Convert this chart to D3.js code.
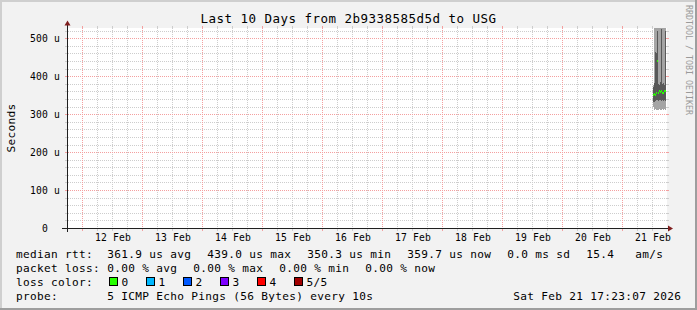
<!DOCTYPE html>
<html><head><meta charset="utf-8">
<script src="https://cdn.jsdelivr.net/npm/d3@7"></script>
<style>
html,body{margin:0;padding:0;background:#f2f2f2;}
svg{display:block;}
text{font-family:"DejaVu Sans Mono",monospace;fill:#000;}
</style></head><body>
<svg id="c" width="697" height="310"></svg>
<script>
// ---------- data ----------
const title = "Last 10 Days from 2b9338585d5d to USG";
const yTickValues = [0, 100, 200, 300, 400, 500];
const yTickLabels = ["0  ", "100 u", "200 u", "300 u", "400 u", "500 u"];
const xTickDays = ["2026-02-12","2026-02-13","2026-02-14","2026-02-15","2026-02-16","2026-02-17","2026-02-18","2026-02-19","2026-02-20","2026-02-21"];
const xTickLabels = ["12 Feb","13 Feb","14 Feb","15 Feb","16 Feb","17 Feb","18 Feb","19 Feb","20 Feb","21 Feb"];
const rangeStart = "2026-02-11 18:00";
const rangeEnd = "2026-02-21 18:00";
// one sample per 24-minute pixel column (round-trip times in microseconds)
const sampleTimes = ["2026-02-21 12:24","2026-02-21 12:48","2026-02-21 13:12","2026-02-21 13:36","2026-02-21 14:00","2026-02-21 14:24","2026-02-21 14:48","2026-02-21 15:12","2026-02-21 15:36","2026-02-21 16:00","2026-02-21 16:24","2026-02-21 16:48","2026-02-21 17:12"];
const pingMin    = [318, 312, 313, 311, 312, 310, 313, 312, 311, 313, 312, 314, 312];
const ping2      = [333, 333, 335, 336, 338, 334, 337, 336, 335, 338, 334, 336, 335];
const pingMedian = [350.3, 352, 351, 356, 439, 357, 361, 358, 362, 357, 356, 360, 359.7];
const ping4      = [372, 382, 465, 460, 520, 380, 378, 385, 525, 380, 383, 378, 520];
const pingMax    = [378, 535, 540, 540, 540, 540, 540, 540, 540, 540, 540, 540, 540];
const rttLabel = "median rtt:";
const rttItems = ["361.9 us avg", "439.0 us max", "350.3 us min", "359.7 us now", "0.0 ms sd", "15.4   am/s"];
const lossLabel = "packet loss:";
const lossItems = ["0.00 % avg", "0.00 % max", "0.00 % min", "0.00 % now"];
const lossColorLabel = "loss color:";
const lossColorNames = ["0", "1", "2", "3", "4", "5/5"];
const lossColors = ["#26ff00", "#00b8ff", "#0059ff", "#7e00ff", "#ff0000", "#a10000"];
const probeLabel = "probe:";
const probeText = "5 ICMP Echo Pings (56 Bytes) every 10s";
const dateText = "Sat Feb 21 17:23:07 2026";
const watermark = "RRDTOOL / TOBI OETIKER";
const yAxisTitle = "Seconds";
const minorStepValue = 20, majorStepValue = 100;   // horizontal grid
const minorStepHours = 6;                          // vertical grid

// ---------- layout ----------
const W = 697, H = 310;
const X0 = 67, X1 = 667, YT = 28, YB = 228;
const parse = d3.timeParse("%Y-%m-%d %H:%M");
const parseDay = d3.timeParse("%Y-%m-%d");
const x = d3.scaleTime().domain([parse(rangeStart), parse(rangeEnd)]).range([X0, X1]);
const y = d3.scaleLinear().domain([0, 527]).range([YB, YT]);

const svg = d3.select("#c");
svg.append("rect").attr("width", W).attr("height", H).attr("fill", "#f2f2f2");
svg.append("path").attr("d", `M0,0H${W}V2H2V${H}H0Z`).attr("fill", "#cfcfcf");
svg.append("path").attr("d", `M${W},0V${H}H0V${H-2}H${W-2}V0Z`).attr("fill", "#9e9e9e");

svg.append("rect").attr("x", X0).attr("y", YT).attr("width", X1 - X0).attr("height", YB - YT).attr("fill", "#fff");

const minorCol = "#cdcdcd";
const majorCol = "#f4a0a0";
const px = v => Math.round(v) + 0.5;

const hMinor = d3.range(minorStepValue, 527, minorStepValue).filter(v => v % majorStepValue !== 0);
const hMajor = d3.range(majorStepValue, 527, majorStepValue);
const dayTimes = xTickDays.map(parseDay);
const vAll = d3.timeHour.every(minorStepHours).range(x.domain()[0], x.domain()[1]);
const vMinor = vAll.filter(t => t.getHours() !== 0 && x(t) > X0 + 1);

function hLines(g, vals, col) {
  vals.forEach(v => {
    const yy = px(y(v));
    g.append("line").attr("x1", X0 + 1).attr("x2", X1).attr("y1", yy).attr("y2", yy)
      .attr("stroke", col).attr("stroke-dasharray", "1,1");
    g.append("line").attr("x1", X0 - 2).attr("x2", X0).attr("y1", yy).attr("y2", yy).attr("stroke", col);
    g.append("line").attr("x1", X1).attr("x2", X1 + 2).attr("y1", yy).attr("y2", yy).attr("stroke", col);
  });
}
function vLines(g, times, col) {
  times.forEach(t => {
    const xx = px(x(t));
    g.append("line").attr("x1", xx).attr("x2", xx).attr("y1", YT).attr("y2", YB)
      .attr("stroke", col).attr("stroke-dasharray", "1,1");
    g.append("line").attr("x1", xx).attr("x2", xx).attr("y1", YB).attr("y2", YB + 3).attr("stroke", col);
    g.append("line").attr("x1", xx).attr("x2", xx).attr("y1", YT - 2).attr("y2", YT).attr("stroke", col);
  });
}
const gMinor = svg.append("g").attr("shape-rendering", "crispEdges");
hLines(gMinor, hMinor, minorCol);
vLines(gMinor, vMinor, minorCol);
const gMajor = svg.append("g").attr("shape-rendering", "crispEdges");
hLines(gMajor, hMajor, majorCol);
vLines(gMajor, dayTimes, majorCol);

svg.append("clipPath").attr("id", "clip").append("rect")
  .attr("x", X0).attr("y", YT).attr("width", X1 - X0).attr("height", YB - YT);
const cols = sampleTimes.map((s, i) => ({t: parse(s), p1: pingMin[i], p2: ping2[i], p3: pingMedian[i], p4: ping4[i], p5: pingMax[i]}));
const cw = d => x(d3.timeMinute.offset(d.t, 24)) - x(d.t);
const plot = svg.append("g").attr("clip-path", "url(#clip)").attr("shape-rendering", "crispEdges");
plot.selectAll("rect.s1").data(cols).join("rect").attr("class", "s1")
  .attr("x", d => x(d.t)).attr("width", cw)
  .attr("y", d => y(d.p5)).attr("height", d => y(d.p1) - y(d.p5)).attr("fill", "#a4a4a4");
plot.selectAll("rect.s2").data(cols).join("rect").attr("class", "s2")
  .attr("x", d => x(d.t)).attr("width", cw)
  .attr("y", d => y(d.p4)).attr("height", d => y(d.p2) - y(d.p4)).attr("fill", "#585858");
plot.selectAll("rect.med").data(cols).join("rect").attr("class", "med")
  .attr("x", d => x(d.t)).attr("width", cw)
  .attr("y", d => y(d.p3) - 1).attr("height", 2).attr("fill", lossColors[0]);

const ax = svg.append("g").attr("shape-rendering", "crispEdges");
ax.append("line").attr("x1", X0 - 5).attr("x2", X1 + 2).attr("y1", YB + 0.5).attr("y2", YB + 0.5).attr("stroke", "#1f1f1f");
ax.append("line").attr("x1", X0 + 0.5).attr("x2", X0 + 0.5).attr("y1", YB + 4).attr("y2", YT - 3).attr("stroke", "#1f1f1f");
svg.append("path").attr("d", `M${X1+1},${YB-2.5}L${X1+6},${YB+0.5}L${X1+1},${YB+3.5}Z`).attr("fill", "#801f1f");
svg.append("path").attr("d", `M${X0-2.5},${YT-2.5}L${X0+0.5},${YT-7.5}L${X0+3.5},${YT-2.5}Z`).attr("fill", "#801f1f");

const axisFont = {size: "9.7px", ls: "0.16px"};
svg.append("g").selectAll("text").data(yTickValues).join("text")
  .attr("x", 60).attr("y", d => px(y(d)) + 3)
  .attr("text-anchor", "end").attr("xml:space", "preserve").style("white-space", "pre")
  .attr("font-size", axisFont.size).attr("letter-spacing", axisFont.ls)
  .text((d, i) => yTickLabels[i]);
svg.append("g").selectAll("text").data(xTickDays).join("text")
  .attr("x", d => x(d3.timeHour.offset(parseDay(d), 12)) + 1)
  .attr("y", 241).attr("text-anchor", "middle")
  .attr("font-size", axisFont.size).attr("letter-spacing", axisFont.ls)
  .text((d, i) => xTickLabels[i]);

svg.append("text").attr("x", 348.5).attr("y", 23).attr("text-anchor", "middle")
  .attr("font-size", "12.5px").attr("letter-spacing", "0.47px").text(title);
svg.append("text").attr("transform", "translate(15,128) rotate(-90)").attr("text-anchor", "middle")
  .attr("font-size", "11.1px").attr("letter-spacing", "0.32px").text(yAxisTitle);
svg.append("text").attr("transform", "translate(686,5) rotate(90)").attr("text-anchor", "start")
  .attr("font-size", "8.3px").style("fill", "#9a9a9a").text(watermark);

const CH = 7, LX = 16, IX = 107.3, GAP = 16;
const lg = svg.append("g").attr("font-size", "11.1px").attr("letter-spacing", "0.32px");
function row(label, items, yb) {
  lg.append("text").attr("x", LX).attr("y", yb).attr("xml:space", "preserve").style("white-space", "pre").text(label);
  let cx = IX;
  items.forEach(s => {
    lg.append("text").attr("x", cx).attr("y", yb).attr("xml:space", "preserve").style("white-space", "pre").text(s);
    cx += s.length * CH + GAP;
  });
}
row(rttLabel, rttItems, 257.5);
row(lossLabel, lossItems, 271.7);
lg.append("text").attr("x", LX).attr("y", 285.9).text(lossColorLabel);
let bx = 108.5;
lossColorNames.forEach((n, i) => {
  lg.append("rect").attr("x", bx + 0.5).attr("y", 277.5).attr("width", 8).attr("height", 8)
    .attr("fill", lossColors[i]).attr("stroke", "#000").attr("stroke-width", 1).attr("shape-rendering", "crispEdges");
  lg.append("text").attr("x", bx + 13).attr("y", 285.9).text(n);
  bx += 14 + n.length * CH + GAP;
});
row(probeLabel, [probeText], 300);
lg.append("text").attr("x", 513.3).attr("y", 300).text(dateText);
</script>
</body></html>
